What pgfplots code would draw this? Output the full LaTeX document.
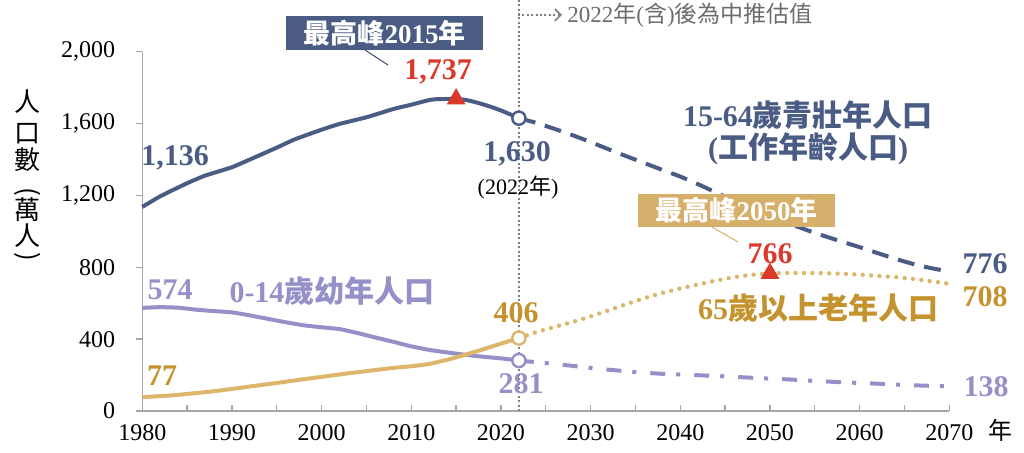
\documentclass[border=0pt]{standalone}
\usepackage{fontspec}
\setmainfont{Liberation Serif}
\newfontfamily\cjk{Noto Sans CJK TC}
\usepackage{pgfplots}
\pgfplotsset{compat=1.18}
\usetikzlibrary{arrows.meta}
\definecolor{wk}{HTML}{4A5C84}
\definecolor{ch}{HTML}{9690C8}
\definecolor{elL}{HTML}{DDB66C}
\definecolor{elT}{HTML}{C4922E}
\definecolor{elB}{HTML}{D6AF6A}
\definecolor{pk}{HTML}{D93A2B}
\definecolor{ax}{HTML}{A6A6A6}
\newcommand\cj[1]{{\cjk #1}}
\begin{document}
\begin{tikzpicture}
\begin{axis}[
  at={(71.15pt,-205.5pt)}, anchor=south west,
  scale only axis, width=403.5pt, height=179.65pt,
  xmin=1980, xmax=2070, ymin=0, ymax=2000,
  axis x line=bottom, axis y line=left,
  axis line style={-, draw=ax, line width=0.7pt},
  xtick={1980,1990,...,2070}, minor xtick={1985,1995,...,2065},
  ytick={0,400,...,2000},
  tick style={draw=ax, line width=0.7pt},
  major tick length=3pt, minor tick length=3pt,
  xtick align=inside, ytick align=outside,
  ticklabel style={font=\fontsize{12}{12}\selectfont},
  /pgf/number format/assume math mode=true,
  yticklabel style={/pgf/number format/1000 sep={,}, xshift=-7pt},
  xticklabel style={/pgf/number format/1000 sep={}, yshift=-3pt},
  clip=false,
]
\draw[gray, line width=1pt, dash pattern=on 1pt off 1.2pt] (axis cs:2022,0) -- (axis cs:2022,2287);
% 15-64 historical
\addplot[wk, line width=2pt, smooth, tension=0.3] coordinates {
(1980,1136)(1982,1195)(1985,1268)(1987,1310)(1990,1357)(1992,1400)(1995,1466)(1997,1512)(2000,1566)(2002,1598)(2005,1635)(2008,1681)(2010,1705)(2012,1731)(2013,1736)(2015,1737)(2016,1732)(2017,1721)(2018,1707)(2019,1691)(2020,1673)(2021,1652)(2022,1630)};
% 15-64 projection
\addplot[wk, line width=2pt, dash pattern=on 8.5pt off 5pt, smooth, tension=0.3] coordinates {
(2022,1630)(2024,1603)(2026,1570)(2028,1535)(2030,1497)(2032,1457)(2034,1418)(2036,1380)(2038,1342)(2040,1305)(2042,1262)(2044,1216)(2046,1170)(2048,1126)(2050,1085)(2052,1046)(2054,1009)(2056,975)(2058,943)(2060,912)(2062,879)(2064,847)(2066,818)(2068,795)(2070,776)};
% 0-14 historical
\addplot[ch, line width=2pt, smooth, tension=0.3] coordinates {
(1980,574)(1982,578)(1984,575)(1986,564)(1988,556)(1990,549)(1992,532)(1994,513)(1996,494)(1998,477)(2000,466)(2002,456)(2004,434)(2006,409)(2008,385)(2010,360)(2012,340)(2014,326)(2016,313)(2018,302)(2020,293)(2022,281)};
% 0-14 projection
\addplot[ch, line width=2pt, dash pattern=on 7.5pt off 5.5pt on 2pt off 7pt, smooth, tension=0.3] coordinates {
(2022,281)(2024,271)(2026,262)(2028,251)(2030,240)(2032,230)(2034,221)(2036,213)(2038,207)(2040,203)(2042,199)(2044,195)(2046,190)(2048,185)(2050,180)(2052,176)(2054,170)(2056,165)(2058,160)(2060,156)(2062,152)(2064,147)(2066,143)(2068,140)(2070,138)};
% 65+ historical
\addplot[elL, line width=2pt, smooth, tension=0.3] coordinates {
(1980,77)(1983,86)(1985,95)(1988,110)(1990,123)(1993,143)(1995,156)(1998,177)(2000,190)(2003,210)(2005,222)(2008,240)(2010,249)(2012,262)(2014,285)(2016,313)(2018,343)(2020,375)(2022,406)};
% 65+ projection
\addplot[elL, line width=2.2pt, line cap=round, dash pattern=on 0pt off 4.2pt, smooth, tension=0.3] coordinates {
(2022,406)(2024,440)(2026,468)(2028,496)(2030,526)(2032,560)(2034,595)(2036,628)(2038,657)(2040,682)(2042,705)(2044,726)(2046,745)(2048,758)(2050,766)(2052,768)(2054,768)(2056,767)(2058,764)(2060,759)(2062,752)(2064,745)(2066,735)(2068,722)(2070,708)};
% 2022 open markers
\addplot[only marks, mark=*, mark size=3.3pt, mark options={draw=wk, fill=white, line width=1.2pt}] coordinates {(2022,1630)};
\addplot[only marks, mark=*, mark size=3.3pt, mark options={draw=ch, fill=white, line width=1.2pt}] coordinates {(2022,281)};
\addplot[only marks, mark=*, mark size=3.3pt, mark options={draw=elL, fill=white, line width=1.2pt}] coordinates {(2022,406)};
% peaks
\addplot[only marks, mark=triangle*, mark size=5pt, mark options={draw=pk, fill=pk}] coordinates {(2015,1737)(2050,766)};
\end{axis}
\begin{scope}[x=0.5pt, y=-0.5pt]
% note on projection
\draw[gray, line width=0.8pt, dash pattern=on 1pt off 1.2pt, -{Straight Barb[length=3pt, width=6pt, line width=0.8pt]}] (518,15) -- (562,15);
\node[anchor=west, inner sep=0pt, text=gray!85!black, font=\fontsize{11.5}{11.5}\selectfont] at (567,15) {2022\cj{年}(\cj{含})\cj{後為中推估值}};
% y label
\foreach \c/\yy in {人/102, 口/134, 數/160, 萬/210, 人/236}
  \node[font=\fontsize{13}{13}\selectfont\cjk, inner sep=0pt] at (28,\yy) {\c};
\node[font=\fontsize{13}{13}\selectfont\cjk, inner sep=0pt, rotate=-90] at (28,192) {(};
\node[font=\fontsize{13}{13}\selectfont\cjk, inner sep=0pt, rotate=-90] at (28,257) {)};
\node[font=\fontsize{12}{12}\selectfont\cjk, inner sep=0pt] at (1000,430) {年};
% peak 2015 box
\draw[wk!80!black, line width=0.5pt] (365,50) -- (388,65);
\node[fill=wk, text=white, minimum width=98.5pt, minimum height=17pt, inner sep=0pt, font=\fontsize{13.5}{13.5}\selectfont\bfseries] at (384.5,33) {\cj{最高峰}2015\cj{年}};
\node[text=pk, font=\fontsize{15}{15}\selectfont\bfseries, inner sep=0pt] at (438,72) {1,737};
% peak 2050 box
\draw[elB, line width=0.5pt] (712,227) -- (738,242);
\node[fill=elB, text=white, minimum width=98.5pt, minimum height=16.5pt, inner sep=0pt, font=\fontsize{13.5}{13.5}\selectfont\bfseries] at (736.5,210.5) {\cj{最高峰}2050\cj{年}};
\node[text=pk, font=\fontsize{15}{15}\selectfont\bfseries, inner sep=0pt] at (770,254) {766};
% working labels
\node[text=wk, font=\fontsize{15}{15}\selectfont\bfseries, inner sep=0pt] at (175,158) {1,136};
\node[text=wk, font=\fontsize{15}{15}\selectfont\bfseries, inner sep=0pt] at (517,154) {1,630};
\node[text=black, font=\fontsize{11}{11}\selectfont, inner sep=0pt] at (518,188) {(2022\cj{年})};
\node[text=wk, font=\fontsize{15}{15}\selectfont\bfseries, inner sep=0pt] at (808,115) {15-64\cj{歲青壯年人口}};
\node[text=wk, font=\fontsize{15}{15}\selectfont\bfseries, inner sep=0pt] at (808,149) {(\cj{工作年齡人口})};
\node[text=wk, font=\fontsize{15}{15}\selectfont\bfseries, inner sep=0pt] at (985,264) {776};
% children labels
\node[text=ch, font=\fontsize{15}{15}\selectfont\bfseries, inner sep=0pt] at (170,290) {574};
\node[text=ch, font=\fontsize{15}{15}\selectfont\bfseries, inner sep=0pt] at (332,291) {0-14\cj{歲幼年人口}};
\node[text=ch, font=\fontsize{15}{15}\selectfont\bfseries, inner sep=0pt] at (521,384) {281};
\node[text=ch, font=\fontsize{15}{15}\selectfont\bfseries, inner sep=0pt] at (986,387) {138};
% elderly labels
\node[text=elT, font=\fontsize{15}{15}\selectfont\bfseries, inner sep=0pt] at (162,376) {77};
\node[text=elT, font=\fontsize{15}{15}\selectfont\bfseries, inner sep=0pt] at (516,313) {406};
\node[text=elT, font=\fontsize{15}{15}\selectfont\bfseries, inner sep=0pt] at (985,297) {708};
\node[text=elT, font=\fontsize{15}{15}\selectfont\bfseries, inner sep=0pt] at (818,308) {65\cj{歲以上老年人口}};
\end{scope}
\pgfresetboundingbox
\path[use as bounding box] (0,0) rectangle (512pt,-226.5pt);
\end{tikzpicture}
\end{document}
